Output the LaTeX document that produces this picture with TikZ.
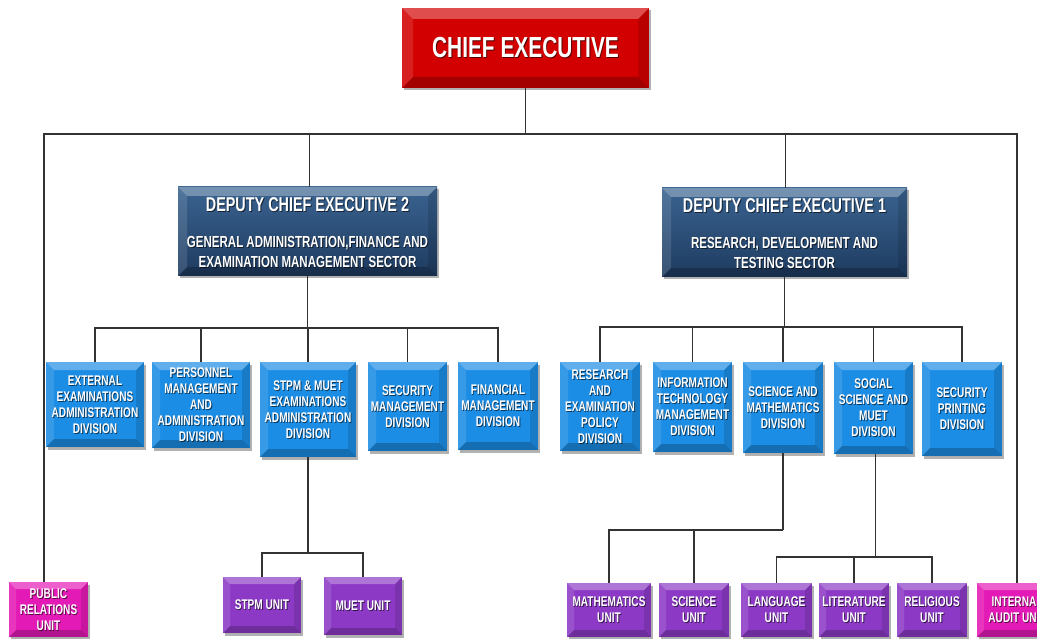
\documentclass[tikz,border=0pt]{standalone}
\usepackage{fontspec}
\setmainfont{Liberation Sans}[FakeStretch=0.72]
\usetikzlibrary{shadows}

\definecolor{ceRed}{HTML}{D20000}
\definecolor{dceNavyTop}{HTML}{3A6390}
\definecolor{dceNavyBot}{HTML}{1E3B60}
\definecolor{divBlue}{HTML}{1C8DE4}
\definecolor{unitPurple}{HTML}{8C3AC6}
\definecolor{unitPink}{HTML}{E41AB6}
\definecolor{linkGray}{HTML}{333333}

\tikzset{
  link/.style={draw=linkGray, line width=1.5pt},
  % beveled panel: lighter top/left faces, darker bottom/right faces
  bevel/.style={path picture={
    \fill[white,opacity=.30] (path picture bounding box.north west) -- (path picture bounding box.north east)
      -- ([shift={(-#1,-#1)}]path picture bounding box.north east) -- ([shift={(#1,-#1)}]path picture bounding box.north west) -- cycle;
    \fill[white,opacity=.12] (path picture bounding box.north west) -- (path picture bounding box.south west)
      -- ([shift={(#1,#1)}]path picture bounding box.south west) -- ([shift={(#1,-#1)}]path picture bounding box.north west) -- cycle;
    \fill[black,opacity=.12] (path picture bounding box.north east) -- (path picture bounding box.south east)
      -- ([shift={(-#1,#1)}]path picture bounding box.south east) -- ([shift={(-#1,-#1)}]path picture bounding box.north east) -- cycle;
    \fill[black,opacity=.22] (path picture bounding box.south west) -- (path picture bounding box.south east)
      -- ([shift={(-#1,#1)}]path picture bounding box.south east) -- ([shift={(#1,#1)}]path picture bounding box.south west) -- cycle;
  }},
  panel/.style={rectangle, draw=none, inner sep=0pt,
    drop shadow={shadow xshift=1.5pt, shadow yshift=-2.5pt, opacity=.30, fill=black}},
  ceBox/.style={panel, fill=ceRed, bevel=11pt},
  dceBox/.style={panel, top color=dceNavyTop, bottom color=dceNavyBot, bevel=9pt},
  divBox/.style={panel, fill=divBlue, bevel=8pt},
  unitBox/.style={panel, fill=unitPurple, bevel=7pt},
  pinkBox/.style={panel, fill=unitPink, bevel=7pt},
  txtbase/.style={align=center, inner sep=0pt},
}

% white caption with a dark drop shadow: name, position, font, text
\newcommand\shtext[4]{%
  \node[txtbase, font=#3, text=black, opacity=.6] (#1-shade) at ([shift={(0.9pt,-0.9pt)}]#2) {#4};
  \node[txtbase, font=#3, text=white] (#1) at (#2) {#4};
}
% panel box: name, style, font, x1, y1, x2, y2, text
\newcommand\orgnode[8]{%
  \node[#2, minimum width=#6pt-#4pt, minimum height=#7pt-#5pt] (#1) at ({(#4+#6)/2},{(#5+#7)/2}) {};
  \shtext{#1-label}{#1.center}{#3}{#8}
}

\begin{document}
\begin{tikzpicture}[x=1pt,y=-1pt]
\useasboundingbox (0,0) rectangle (1037,639);
\fill[white] (0,0) rectangle (1037,639);

\def\dv{\bfseries\fontsize{14}{16}\selectfont}

% top level
\orgnode{ce}{ceBox}{\bfseries\fontsize{29}{32}\selectfont}{402}{8}{649}{88}{CHIEF EXECUTIVE}

% deputies
\orgnode{dce2}{dceBox}{}{178}{187}{437}{276}{}
\coordinate (dce2-t) at (307.5,205);
\coordinate (dce2-s) at (307.5,252);
\shtext{dce2-title}{dce2-t}{\bfseries\fontsize{20}{22}\selectfont}{DEPUTY CHIEF EXECUTIVE 2}
\shtext{dce2-sector}{dce2-s}{\bfseries\fontsize{16}{20}\selectfont}{GENERAL ADMINISTRATION,FINANCE AND\\EXAMINATION MANAGEMENT SECTOR}

\orgnode{dce1}{dceBox}{}{662}{188}{907}{277}{}
\coordinate (dce1-t) at (784.5,206);
\coordinate (dce1-s) at (784.5,253);
\shtext{dce1-title}{dce1-t}{\bfseries\fontsize{20}{22}\selectfont}{DEPUTY CHIEF EXECUTIVE 1}
\shtext{dce1-sector}{dce1-s}{\bfseries\fontsize{16}{20}\selectfont}{RESEARCH, DEVELOPMENT AND\\TESTING SECTOR}

% divisions under deputy 2
\orgnode{ext}{divBox}{\dv}{46}{362}{144}{447}{EXTERNAL\\EXAMINATIONS\\ADMINISTRATION\\DIVISION}
\orgnode{per}{divBox}{\dv}{152}{362}{250}{448}{PERSONNEL\\MANAGEMENT\\AND\\ADMINISTRATION\\DIVISION}
\orgnode{stpmd}{divBox}{\dv}{260}{362}{356}{457}{STPM \& MUET\\EXAMINATIONS\\ADMINISTRATION\\DIVISION}
\orgnode{secm}{divBox}{\dv}{368}{362}{447}{451}{SECURITY\\MANAGEMENT\\DIVISION}
\orgnode{fin}{divBox}{\dv}{458}{362}{538}{450}{FINANCIAL\\MANAGEMENT\\DIVISION}

% divisions under deputy 1
\orgnode{rep}{divBox}{\dv}{560}{362}{640}{451}{RESEARCH\\AND\\EXAMINATION\\POLICY\\DIVISION}
\orgnode{itm}{divBox}{\dv}{653}{362}{732}{452}{INFORMATION\\TECHNOLOGY\\MANAGEMENT\\DIVISION}
\orgnode{sm}{divBox}{\dv}{743}{362}{823}{453}{SCIENCE AND\\MATHEMATICS\\DIVISION}
\orgnode{ssm}{divBox}{\dv}{834}{362}{913}{454}{SOCIAL\\SCIENCE AND\\MUET\\DIVISION}
\orgnode{secp}{divBox}{\dv}{922}{362}{1002}{456}{SECURITY\\PRINTING\\DIVISION}

% units
\orgnode{pr}{pinkBox}{\dv}{9}{582}{88}{637}{PUBLIC\\RELATIONS\\UNIT}
\orgnode{ia}{pinkBox}{\dv}{977}{583}{1057}{637}{INTERNAL\\AUDIT UNIT}
\orgnode{stpmu}{unitBox}{\dv}{223}{577}{301}{633}{STPM UNIT}
\orgnode{muetu}{unitBox}{\dv}{324}{577}{402}{635}{MUET UNIT}
\orgnode{mathu}{unitBox}{\dv}{567}{583}{651}{637}{MATHEMATICS\\UNIT}
\orgnode{sciu}{unitBox}{\dv}{659}{583}{729}{637}{SCIENCE\\UNIT}
\orgnode{langu}{unitBox}{\dv}{741}{583}{812}{637}{LANGUAGE\\UNIT}
\orgnode{litu}{unitBox}{\dv}{819}{583}{889}{637}{LITERATURE\\UNIT}
\orgnode{relu}{unitBox}{\dv}{897}{583}{967}{637}{RELIGIOUS\\UNIT}

% bus lines
\coordinate (topbus) at (525,134);
\coordinate (lbus) at (0,328);
\coordinate (rbus) at (0,327);
\coordinate (stbus) at (0,553);
\coordinate (smbus) at (0,530);
\coordinate (ssbus) at (0,557);

% chief executive to deputies and staff units
\draw[link] (ce.south) -- (ce.south |- topbus);
\draw[link] ([xshift=-4.5pt]pr.north) |- (ia.north |- topbus) -- (ia.north);
\draw[link] ([xshift=2pt]dce2.north) -- ([xshift=2pt]dce2.north |- topbus);
\draw[link] ([xshift=1pt]dce1.north) -- ([xshift=1pt]dce1.north |- topbus);

% deputy 2 to its divisions
\draw[link] (dce2.south) -- (dce2.south |- lbus);
\draw[link] (ext.north) |- (fin.north |- lbus) -- (fin.north);
\draw[link] (per.north) -- (per.north |- lbus);
\draw[link] (stpmd.north) -- (stpmd.north |- lbus);
\draw[link] (secm.north) -- (secm.north |- lbus);

% deputy 1 to its divisions
\draw[link] (dce1.south) -- (dce1.south |- rbus);
\draw[link] (rep.north) |- (secp.north |- rbus) -- (secp.north);
\draw[link] (itm.north) -- (itm.north |- rbus);
\draw[link] (sm.north) -- (sm.north |- rbus);
\draw[link] (ssm.north) -- (ssm.north |- rbus);

% divisions to units
\draw[link] (stpmd.south) -- (stpmd.south |- stbus);
\draw[link] (stpmu.north) |- (muetu.north |- stbus) -- (muetu.north);

\draw[link] (sm.south) -- (sm.south |- smbus);
\draw[link] (mathu.north) |- (sm.south |- smbus);
\draw[link] (sciu.north) -- (sciu.north |- smbus);

\draw[link] ([xshift=2pt]ssm.south) -- ([xshift=2pt]ssm.south |- ssbus);
\draw[link] (langu.north) |- (relu.north |- ssbus) -- (relu.north);
\draw[link] (litu.north) -- (litu.north |- ssbus);
\end{tikzpicture}
\end{document}
